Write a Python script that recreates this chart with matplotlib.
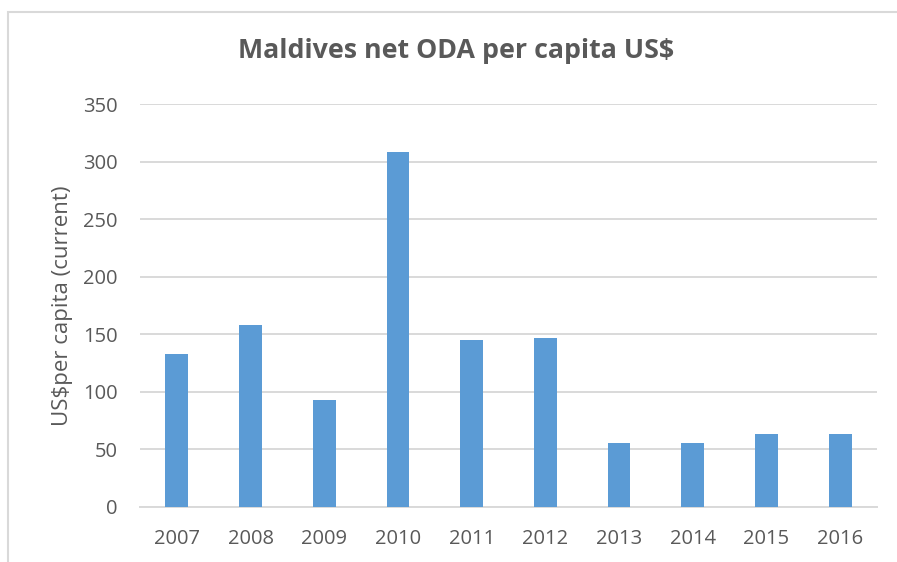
import matplotlib.pyplot as plt
from matplotlib.patches import Rectangle

years = ["2007", "2008", "2009", "2010", "2011", "2012", "2013", "2014", "2015", "2016"]
oda_per_capita = [133, 158, 93, 308, 145, 147, 56, 56, 63, 63]

plt.rcParams["font.family"] = ["Open Sans", "DejaVu Sans"]

fig = plt.figure(figsize=(8.97, 5.62), dpi=100)
ax = fig.add_axes([140 / 897, 1 - 507 / 562, 737 / 897, 403 / 562])

ax.bar(range(len(years)), oda_per_capita, width=0.31, color="#5B9BD5", zorder=3)

ax.set_xlim(-0.5, len(years) - 0.5)
ax.set_ylim(0, 350)
ax.set_yticks(range(0, 351, 50))
ax.set_xticks(range(len(years)))
ax.set_xticklabels(years)

ax.grid(axis="y", color="#D9D9D9", linewidth=1.4, zorder=0)
for s in ["top", "right", "left"]:
    ax.spines[s].set_visible(False)
ax.spines["bottom"].set_color("#D9D9D9")
ax.spines["bottom"].set_linewidth(1.4)
ax.tick_params(length=0, colors="#595959", labelsize=14.5)
ax.tick_params(axis="y", pad=16)
ax.tick_params(axis="x", pad=16)

ax.set_ylabel("US$per capita (current)", fontsize=16, color="#595959", labelpad=7)
fig.text(0.508, 1 - 51 / 562, "Maldives net ODA per capita US$", ha="center", va="center",
         fontsize=19.3, fontweight="bold", color="#595959")

# chart border
fig.patches.append(Rectangle((8 / 897, -0.01), 1.0, 1 - 12 / 562 + 0.01, transform=fig.transFigure,
                             fill=False, edgecolor="#D9D9D9", linewidth=1.5))

fig.savefig("out.png", dpi=100)
